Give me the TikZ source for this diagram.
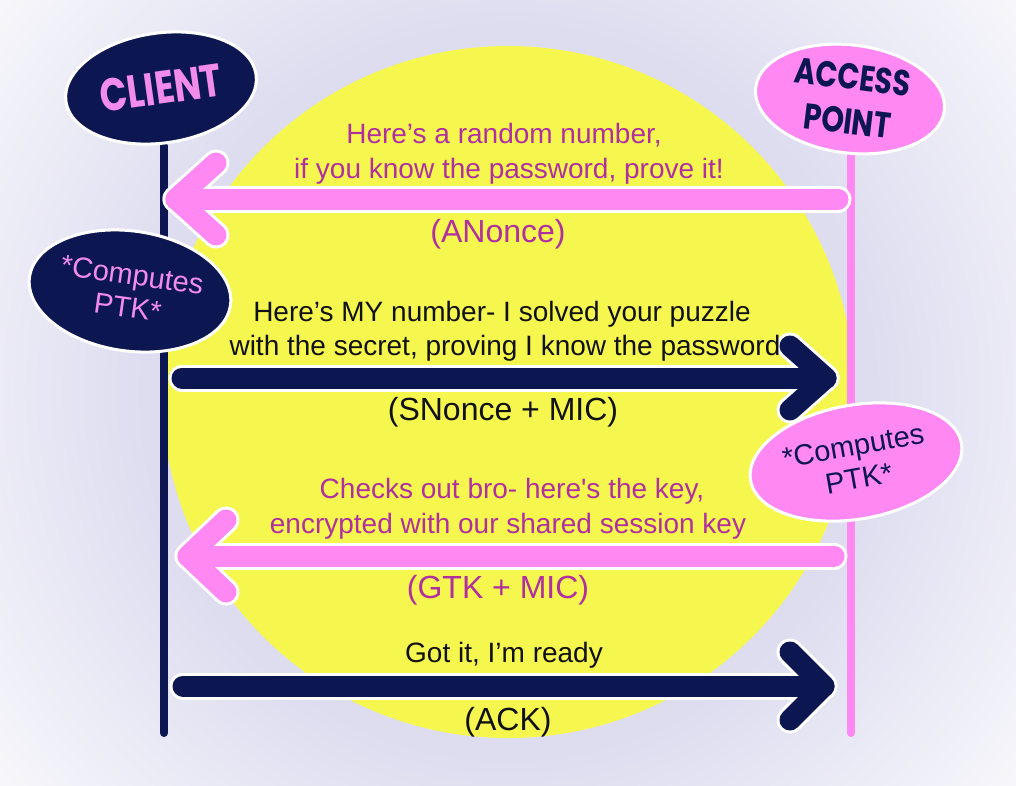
\documentclass[tikz,border=0pt]{standalone}
\usepackage{fontspec}
\usepackage{graphicx}
\setmainfont{Liberation Sans}
\newfontfamily\headfont{Poppins}
\usetikzlibrary{shapes.geometric}
\definecolor{navy}{HTML}{0C1650}
\definecolor{apink}{HTML}{FF88F3}
\definecolor{tpink}{HTML}{F28CEB}
\definecolor{mag}{HTML}{B0309F}
\definecolor{ylw}{HTML}{F6F74E}
\definecolor{lav}{HTML}{DEDDF0}
\definecolor{bgw}{HTML}{F9F9FC}
\definecolor{ink}{HTML}{111111}
\pgfdeclareradialshading{glow}{\pgfpoint{0bp}{0bp}}{color(0bp)=(lav); color(12bp)=(lav); color(22bp)=(bgw); color(50bp)=(bgw)}
\tikzset{
  msgbg/.style={line width=27, white, line cap=round, line join=round},
  msgfg/.style={line width=21, line cap=round, line join=round},
  body/.style={anchor=base, inner sep=0, font=\fontsize{28}{34}\selectfont},
  paren/.style={anchor=base, inner sep=0, font=\fontsize{32}{38}\selectfont},
  blob/.style={ellipse, draw=white, line width=3, inner sep=0, align=center},
  head/.style={font=\headfont\bfseries\fontsize{46}{50}\selectfont},
  ptk/.style={font=\fontsize{29}{33}\selectfont},
}
\begin{document}
\begin{tikzpicture}[x=1pt,y=-1pt]
\useasboundingbox (0,0) rectangle (1016,785);
\fill[bgw] (0,0) rectangle (1016,785);
\begin{scope}
\clip (0,0) rectangle (1016,785);
\shade[shading=glow] (508,392) circle (760);
\end{scope}
% yellow disc
\fill[ylw] (508,392) circle (346);

% lifelines
\coordinate (ctop) at (164,146);
\coordinate (cbot) at (164,733);
\coordinate (atop) at (851,150);
\coordinate (abot) at (851,733);
\draw[navy, line width=8, line cap=round] (ctop) -- (cbot);
\draw[apink, line width=8, line cap=round] (atop) -- (abot);

% header ellipses
\node[blob, head, fill=navy, text=tpink, minimum width=192, minimum height=110, rotate=8] (client) at (161,88) {\scalebox{0.78}[1]{CLIENT}};
\node[blob, head, fill=apink, text=navy, minimum width=190, minimum height=108, rotate=-7, font=\headfont\bfseries\fontsize{36}{44}\selectfont] (ap) at (850,99) {\scalebox{0.8}[1]{ACCESS}\\\scalebox{0.8}[1]{POINT}};

% compute blobs
\node[blob, ptk, fill=navy, text=tpink, minimum width=186, minimum height=120, rotate=-8] (cptk) at (130,291) {*Computes\\PTK*};
\node[blob, ptk, fill=apink, text=navy, minimum width=214, minimum height=114, rotate=10] (aptk) at (856,462) {*Computes\\PTK*};

% message endpoints
\coordinate (m1s) at (838,199); \coordinate (m1t) at (176,199);
\coordinate (m2s) at (182,378); \coordinate (m2t) at (826,378);
\coordinate (m3s) at (834,556); \coordinate (m3t) at (188,556);
\coordinate (m4s) at (183,686); \coordinate (m4t) at (824,686);

% white outlines
\draw[msgbg] (m1s) -- (m1t);
\draw[msgbg] (m1t) ++(40,-36) -- (m1t) -- ++(40,36);
\draw[msgbg] (m2s) -- (m2t);
\draw[msgbg] (m2t) ++(-36,-32) -- (m2t) -- ++(-36,32);
\draw[msgbg] (m3s) -- (m3t);
\draw[msgbg] (m3t) ++(38,-36) -- (m3t) -- ++(38,36);
\draw[msgbg] (m4s) -- (m4t);
\draw[msgbg] (m4t) ++(-34,-34) -- (m4t) -- ++(-34,34);
% coloured arrows
\draw[msgfg, apink] (m1s) -- (m1t);
\draw[msgfg, apink] (m1t) ++(40,-36) -- (m1t) -- ++(40,36);
\draw[msgfg, navy] (m2s) -- (m2t);
\draw[msgfg, navy] (m2t) ++(-36,-32) -- (m2t) -- ++(-36,32);
\draw[msgfg, apink] (m3s) -- (m3t);
\draw[msgfg, apink] (m3t) ++(38,-36) -- (m3t) -- ++(38,36);
\draw[msgfg, navy] (m4s) -- (m4t);
\draw[msgfg, navy] (m4t) ++(-34,-34) -- (m4t) -- ++(-34,34);

% texts
\node[body, text=mag] (l1a) at (504,143) {Here’s a random number,};
\node[body, text=mag] (l1b) at (509,178) {if you know the password, prove it!};
\node[paren, text=mag] (p1) at (498,242) {(ANonce)};
\node[body, text=ink] (l2a) at (502,321) {Here’s MY number- I solved your puzzle};
\node[body, text=ink] (l2b) at (505,355) {with the secret, proving I know the password};
\node[paren, text=ink] (p2) at (503,420) {(SNonce + MIC)};
\node[body, text=mag] (l3a) at (512,498) {Checks out bro- here\textquotesingle s the key,};
\node[body, text=mag] (l3b) at (508,533) {encrypted with our shared session key};
\node[paren, text=mag] (p3) at (498,598) {(GTK + MIC)};
\node[body, text=ink] (l4) at (504,662) {Got it, I’m ready};
\node[paren, text=ink] (p4) at (508,730) {(ACK)};
\end{tikzpicture}
\end{document}
